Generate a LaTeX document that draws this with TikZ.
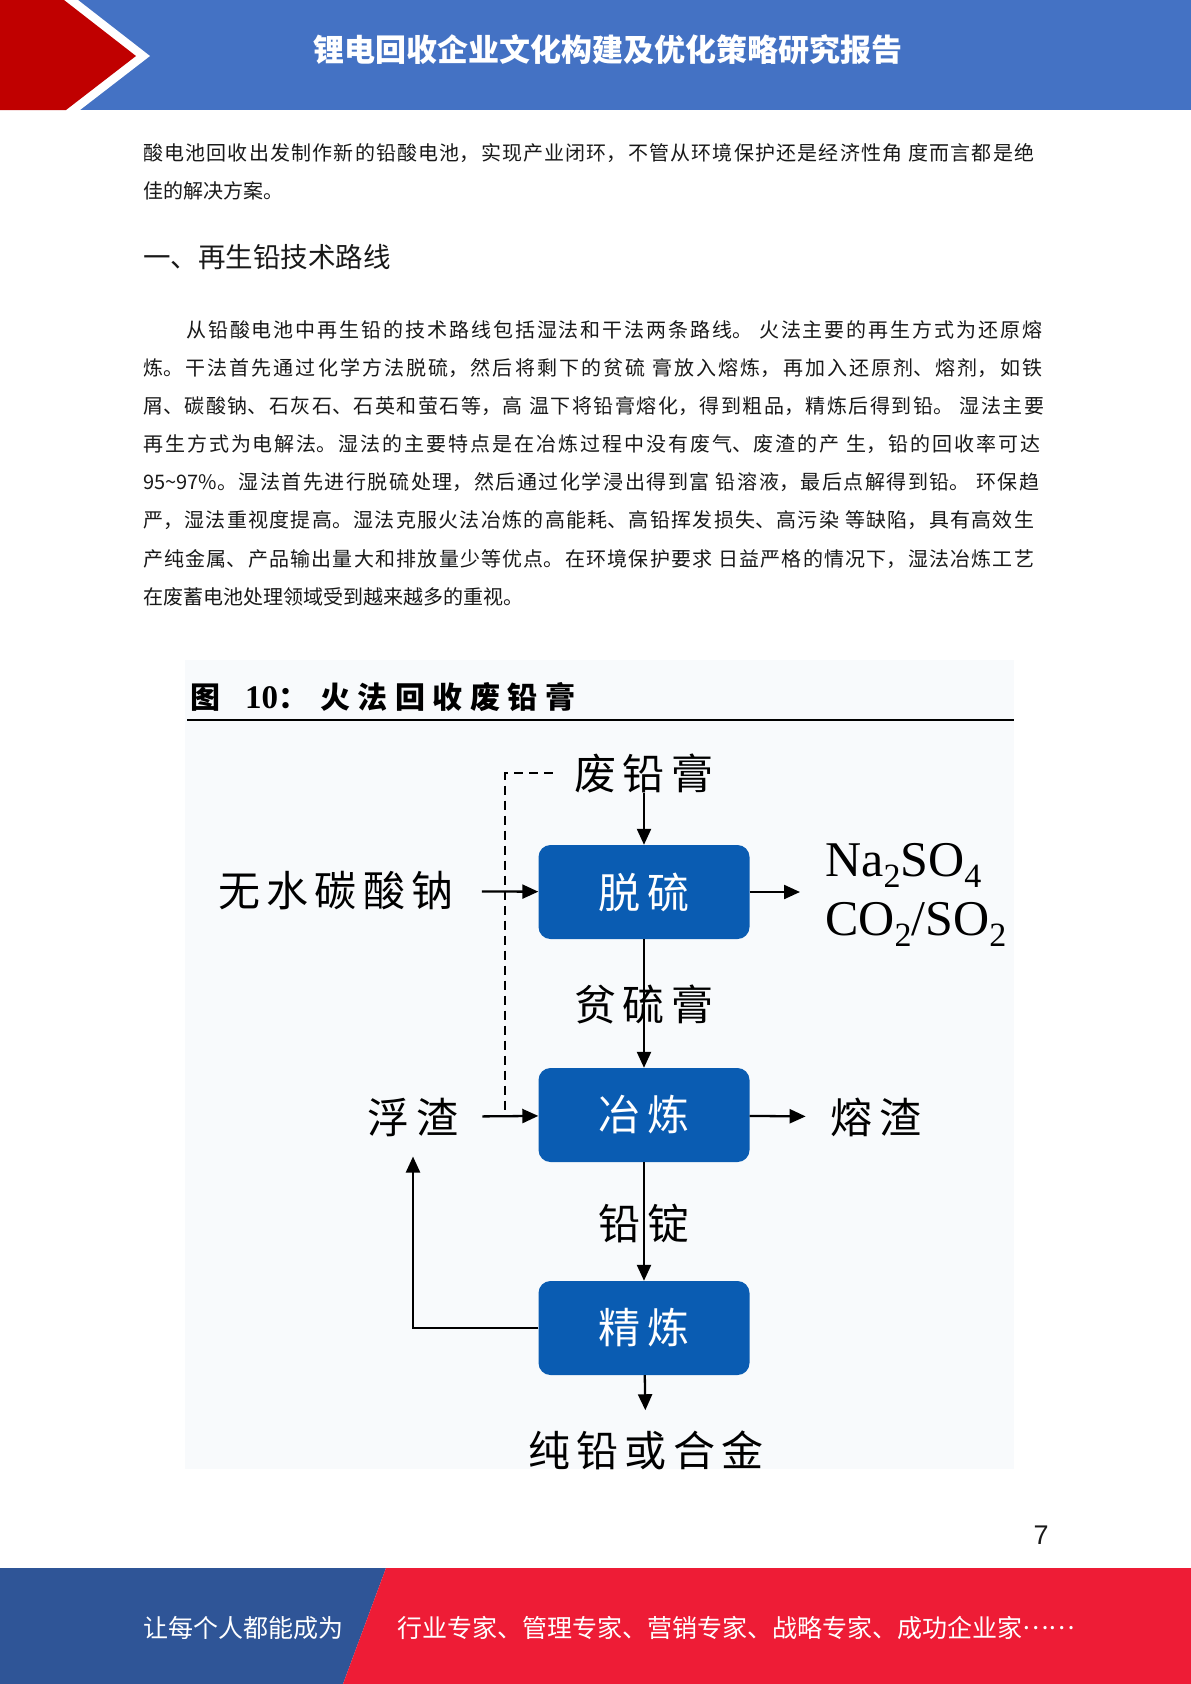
\documentclass[tikz,border=0pt]{standalone}
\usepackage{fontspec}
\setmainfont{Noto Sans CJK SC}
\newfontfamily\cjk{Noto Sans CJK SC}
\newfontfamily\cjkls{Noto Sans CJK SC}[LetterSpace=15]
\newfontfamily\tms{Liberation Serif}
\newfontfamily\arl{Liberation Sans}
\usetikzlibrary{arrows.meta}
\XeTeXlinebreaklocale "zh"
\XeTeXlinebreakskip=0pt plus 2pt
\definecolor{hdrblue}{RGB}{68,114,196}
\definecolor{hdrred}{RGB}{192,0,0}
\definecolor{ftblue}{RGB}{47,85,151}
\definecolor{ftred}{RGB}{238,28,54}
\definecolor{boxblue}{RGB}{10,92,178}
\definecolor{panelbg}{RGB}{248,250,252}
\definecolor{txt}{RGB}{25,25,25}
\newcommand\fs[1]{\fontsize{#1}{#1}\selectfont}
\newcommand\jline[2]{\parbox{#1}{\tolerance=10000\parfillskip=0pt\parindent=0pt\relax #2}}
\newcommand\chsub[1]{\raisebox{-0.22em}{\fs{34}#1}}
\begin{document}
\begin{tikzpicture}[x=1pt,y=-1pt,
  bodyline/.style={anchor=west,inner sep=0pt,text=txt,font=\cjk\fs{20}},
  lbl/.style={inner sep=0pt,font=\cjkls\fs{42},text=black},
  procbox/.style={fill=boxblue,rounded corners=12pt,minimum width=211pt,minimum height=94pt,inner sep=0pt,text=white,font=\cjkls\fs{42}},
  arr/.style={line width=2.3pt,-{Triangle[length=16pt,width=14pt]}},
  dsh/.style={line width=1.8pt,dash pattern=on 9pt off 6pt}]
\useasboundingbox (0,0) rectangle (1191,1684);
\fill[white] (0,0) rectangle (1191,1684);
% header
\fill[hdrblue] (0,0) rectangle (1191,110);
\fill[white] (0,0) -- (78,0) -- (150,56) -- (80,110) -- (0,110) -- cycle;
\fill[hdrred] (0,0) -- (64,0) -- (136,56) -- (66,110) -- (0,110) -- cycle;
\node[inner sep=0pt,text=white,font=\cjk\bfseries\fs{31}] (htitle) at (608,50) {锂电回收企业文化构建及优化策略研究报告};
% body text
\node[bodyline] (pa1) at (143,153) {\jline{891pt}{酸电池回收出发制作新的铅酸电池，实现产业闭环，不管从环境保护还是经济性角 度而言都是绝}};
\node[bodyline] (pa2) at (143,191) {佳的解决方案。};
\node[anchor=west,inner sep=0pt,text=txt,font=\cjk\fs{27.5}] (head) at (143,257) {一、再生铅技术路线};
\node[bodyline] (pb1) at (186,330) {\jline{856pt}{从铅酸电池中再生铅的技术路线包括湿法和干法两条路线。 火法主要的再生方式为还原熔}};
\node[bodyline] (pb2) at (143,368.1) {\jline{899pt}{炼。干法首先通过化学方法脱硫，然后将剩下的贫硫 膏放入熔炼，再加入还原剂、熔剂，如铁}};
\node[bodyline] (pb3) at (143,406.2) {\jline{901pt}{屑、碳酸钠、石灰石、石英和萤石等，高 温下将铅膏熔化，得到粗品，精炼后得到铅。 湿法主要}};
\node[bodyline] (pb4) at (143,444.3) {\jline{897pt}{再生方式为电解法。湿法的主要特点是在冶炼过程中没有废气、废渣的产 生，铅的回收率可达}};
\node[bodyline] (pb5) at (143,482.4) {\jline{896pt}{95\textasciitilde97\%。湿法首先进行脱硫处理，然后通过化学浸出得到富 铅溶液，最后点解得到铅。 环保趋}};
\node[bodyline] (pb6) at (143,520.5) {\jline{891pt}{严，湿法重视度提高。湿法克服火法冶炼的高能耗、高铅挥发损失、高污染 等缺陷，具有高效生}};
\node[bodyline] (pb7) at (143,558.6) {\jline{891pt}{产纯金属、产品输出量大和排放量少等优点。在环境保护要求 日益严格的情况下，湿法冶炼工艺}};
\node[bodyline] (pb8) at (143,596.7) {在废蓄电池处理领域受到越来越多的重视。};
% figure
\begin{scope}
\clip (185,660) rectangle (1014,1469);
\fill[panelbg] (185,660) rectangle (1014,1469);
\node[anchor=west,inner sep=0pt,font=\cjk\bfseries\fs{30}] (ftitle) at (190,697) {图\hspace{25pt}{\tms\bfseries\fs{33}10}：\hspace{12pt}{\addfontfeature{LetterSpace=25}火法回收废铅膏}};
\coordinate (rl) at (187,720);
\coordinate (rr) at (1014,720);
\draw[line width=2.5pt] (rl) -- (rr);
\node[procbox] (b1) at (644,892) {脱硫};
\node[procbox] (b2) at (644,1115) {冶炼};
\node[procbox] (b3) at (644,1328) {精炼};
\node[lbl] (fqg) at (644,773) {废铅膏};
\node[lbl] (wsts) at (336,891) {无水碳酸钠};
\node[lbl] (fz) at (413,1117) {浮渣};
\node[lbl] (rz) at (876,1117) {熔渣};
\node[anchor=west,inner sep=0pt,font=\tms\fs{50}] (na) at (825,865) {Na\chsub{2}SO\chsub{4}};
\node[anchor=west,inner sep=0pt,font=\tms\fs{50}] (co) at (825,924) {CO\chsub{2}/SO\chsub{2}};
\node[lbl] (cq) at (646,1450) {纯铅或合金};
\coordinate (dend) at (505,1117);
\draw[dsh] ([xshift=-22pt]fqg.west) -| (dend);
\draw[arr] (fqg) -- (b1);
\draw[arr,shorten <=28pt] (wsts) -- (b1);
\draw[arr] (b1.east) -- ([xshift=-25pt]b1.east -| na.west);
\draw[arr] (b1) -- (b2);
\draw[arr,shorten <=24pt] (fz) -- (b2);
\draw[arr,shorten >=25pt] (b2) -- (rz);
\draw[arr] (b2) -- (b3);
\draw[arr,shorten >=20pt] (b3.west) -| (fz.south);
\draw[arr,shorten >=20pt] (b3) -- (cq);
\node[lbl] (pl) at (644,1004) {贫硫膏};
\node[lbl] (qd) at (644,1224) {铅锭};
\end{scope}
% page number
\node[inner sep=0pt,font=\arl\fs{27},text=txt] (pn) at (1041,1535) {7};
% footer
\fill[ftblue] (0,1568) -- (386,1568) -- (343,1684) -- (0,1684) -- cycle;
\fill[ftred] (386,1568) -- (1191,1568) -- (1191,1684) -- (343,1684) -- cycle;
\node[anchor=west,inner sep=0pt,text=white,font=\cjk\fs{25}] (fl) at (143,1628) {让每个人都能成为};
\node[anchor=west,inner sep=0pt,text=white,font=\cjk\fs{25}] (fr) at (397,1628) {行业专家、管理专家、营销专家、战略专家、成功企业家\raisebox{0.32em}{……}};
\end{tikzpicture}
\end{document}
